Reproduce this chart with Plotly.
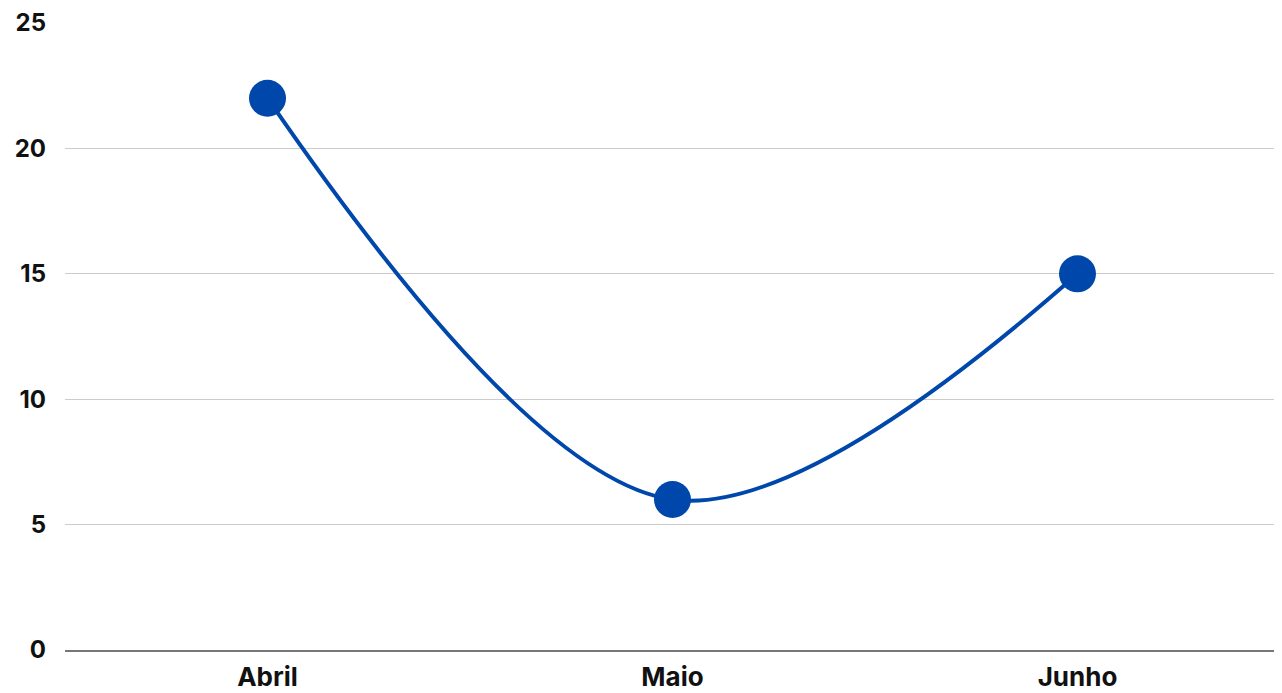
import plotly.graph_objects as go

months = ["Abril", "Maio", "Junho"]
values = [22, 6, 15]
y_ticks = [0, 5, 10, 15, 20, 25]

fig = go.Figure()
fig.add_trace(go.Scatter(
    x=months, y=values, mode="lines+markers",
    line=dict(color="#0047AB", width=4, shape="spline", smoothing=1.0),
    marker=dict(size=37, color="#0047AB"),
    cliponaxis=False,
))

fig.update_layout(
    width=1282, height=693,
    margin=dict(l=57, r=10, t=14, b=51, autoexpand=False),
    paper_bgcolor="white", plot_bgcolor="white",
    showlegend=False,
    font=dict(family="Inter", size=26, color="#111111"),
)
fig.update_xaxes(
    range=[-0.5, 2.5], automargin=False,
    showgrid=False, showline=True, linecolor="#777777", linewidth=1.5,
    tickfont=dict(family="Inter", size=26, color="#111111", weight="bold"),
    ticks="", ticklabelstandoff=3, ticklabeloverflow="allow",
)
fig.update_yaxes(
    range=[0, 25.04], tickvals=y_ticks, automargin=False,
    showgrid=True, gridcolor="#CCCCCC", gridwidth=1,
    zeroline=False, showline=False,
    tickfont=dict(family="Inter", size=24, color="#111111", weight="bold"),
    ticks="", ticklabelstandoff=18, ticklabeloverflow="allow",
)
fig.write_html("out.html")
